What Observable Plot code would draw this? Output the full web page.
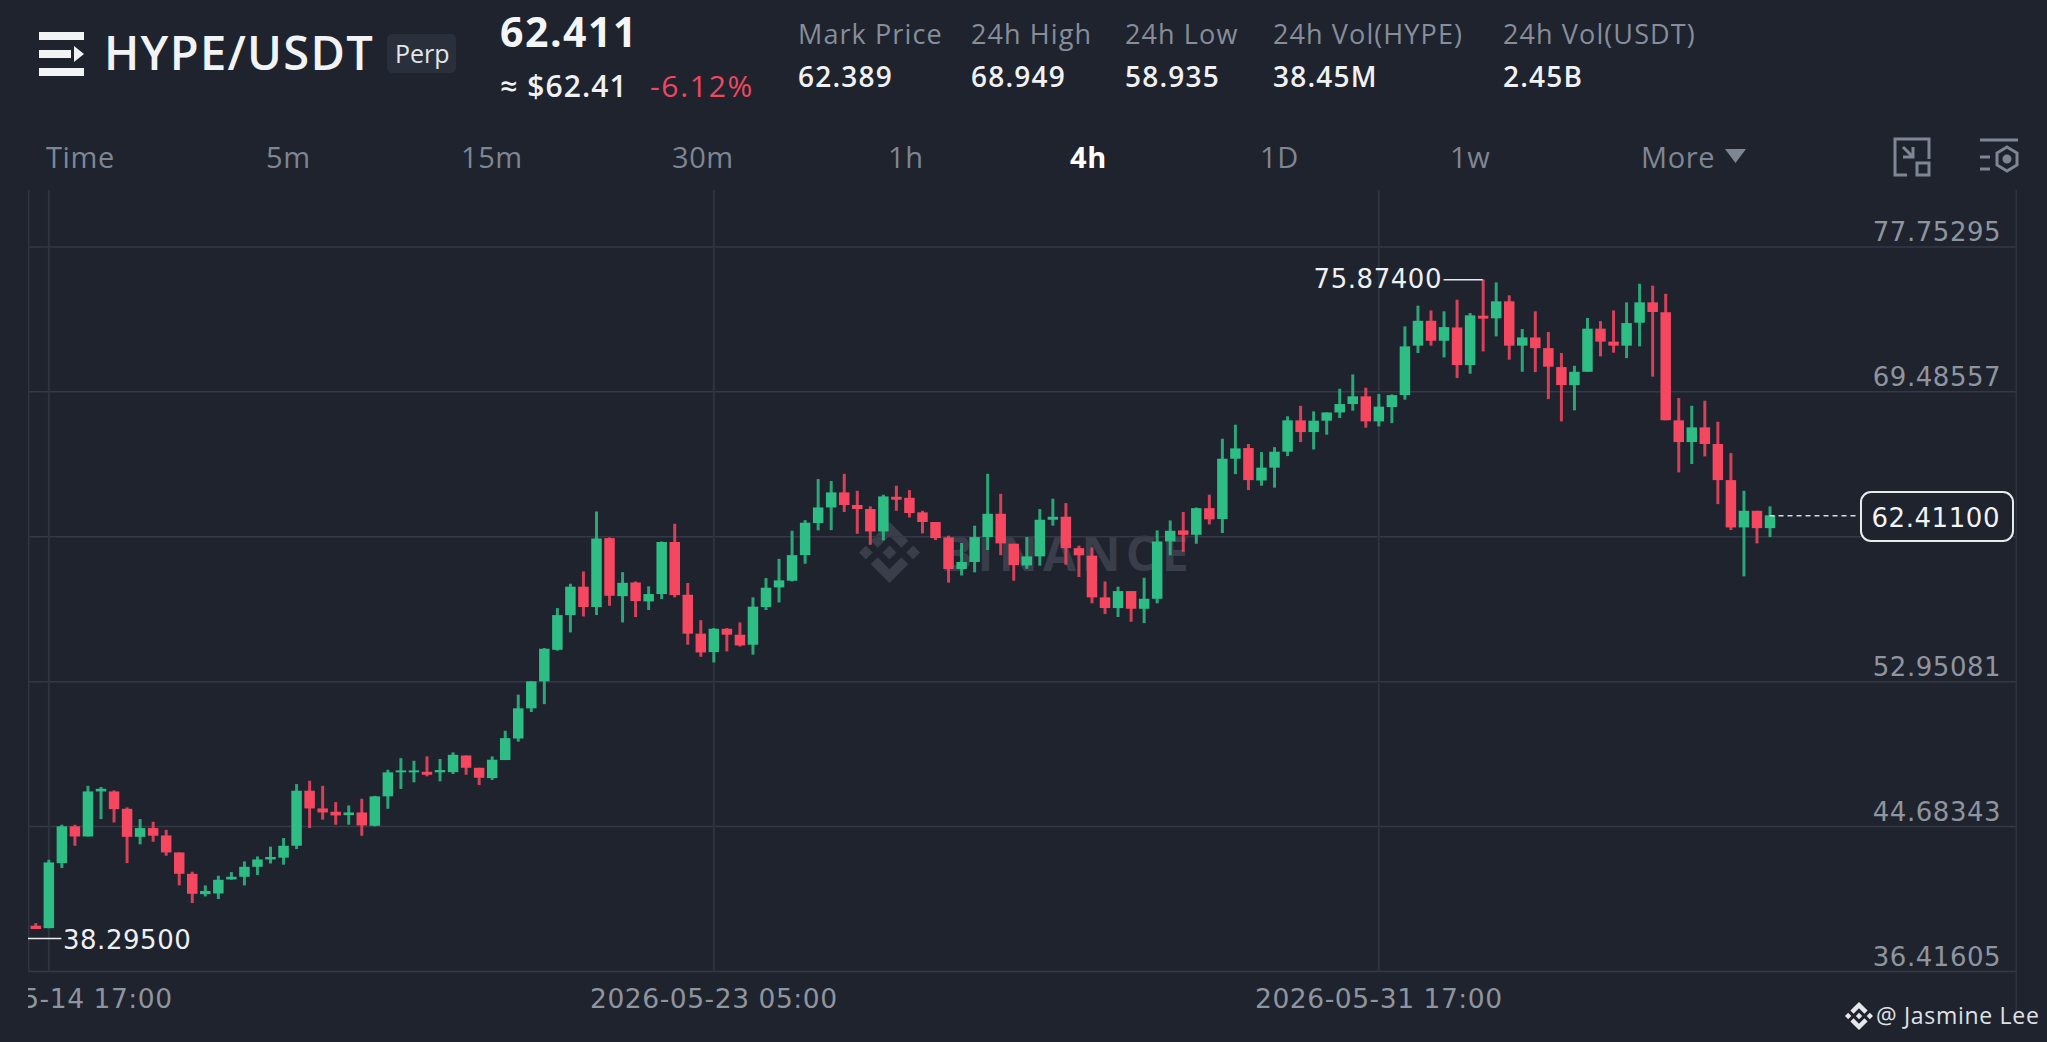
<!DOCTYPE html>
<html><head><meta charset="utf-8">
<script src="https://cdn.jsdelivr.net/npm/d3@7"></script>
<script src="https://cdn.jsdelivr.net/npm/@observablehq/plot@0.6"></script>
<style>
html,body{margin:0;padding:0;background:#1e232e;width:2047px;height:1042px;overflow:hidden;font-family:"Open Sans",sans-serif;color:#fff}
.a{position:absolute;white-space:nowrap;line-height:1}
.lab{color:#878e9b;font-size:27px;top:20px;letter-spacing:1.100px}
.val{color:#f0f1f3;font-size:28px;font-weight:600;top:62px;letter-spacing:1.200px}
.tab{color:#7f8693;font-size:29px;top:142px;letter-spacing:.6px}
#plot{position:absolute;left:28px;top:190px}
#plot svg{display:block}
#plot svg text{letter-spacing:.55px}
</style></head><body>
<svg class="a" style="left:39px;top:32px" width="45" height="44" viewBox="0 0 45 44" fill="#f2f3f5"><rect width="45" height="8"/><rect y="36" width="45" height="8"/><rect y="18" width="32" height="8"/><path d="M35 14l10 8-10 8z"/></svg>
<div class="a" style="left:104px;top:29px;font-size:47px;font-weight:600;color:#f2f3f5;letter-spacing:1.300px">HYPE/USDT</div>
<div class="a" style="left:387px;top:34px;width:69px;height:39px;background:#2a303b;border-radius:5px"></div>
<div class="a" style="left:395px;top:41px;font-size:25px;color:#e3e5e8">Perp</div>
<div class="a" style="left:500px;top:11px;font-size:41px;font-weight:700;color:#f4f5f6;letter-spacing:1.500px">62.411</div>
<div class="a" style="left:500px;top:71px;font-size:30px;font-weight:600;color:#f0f1f3;letter-spacing:1.100px">≈ $62.41</div>
<div class="a" style="left:650px;top:71px;font-size:30px;color:#f0475f;letter-spacing:1.700px">-6.12%</div>
<div class="a lab" style="left:798px">Mark Price</div><div class="a val" style="left:798px">62.389</div>
<div class="a lab" style="left:971px">24h High</div><div class="a val" style="left:971px">68.949</div>
<div class="a lab" style="left:1125px">24h Low</div><div class="a val" style="left:1125px">58.935</div>
<div class="a lab" style="left:1273px">24h Vol(HYPE)</div><div class="a val" style="left:1273px">38.45M</div>
<div class="a lab" style="left:1503px">24h Vol(USDT)</div><div class="a val" style="left:1503px">2.45B</div>
<div class="a tab" style="left:46px">Time</div>
<div class="a tab" style="left:266px">5m</div>
<div class="a tab" style="left:461px">15m</div>
<div class="a tab" style="left:672px">30m</div>
<div class="a tab" style="left:888px">1h</div>
<div class="a tab" style="left:1070px;color:#fff;font-weight:700">4h</div>
<div class="a tab" style="left:1260px">1D</div>
<div class="a tab" style="left:1450px">1w</div>
<div class="a tab" style="left:1641px">More</div>
<svg class="a" style="left:1725px;top:149px" width="21" height="14" viewBox="0 0 21 14" fill="#7f8693"><path d="M0 0h21l-10.500 14z"/></svg>
<svg class="a" style="left:1893px;top:137px" width="38" height="40" viewBox="0 0 38 40" fill="none" stroke="#7f8693" stroke-width="3"><path d="M14 38H2V2h34v20"/><path d="M10 10l10 10M10 20h10V10"/><rect x="24" y="26" width="12" height="12"/></svg>
<svg class="a" style="left:1979px;top:137px" width="40" height="40" viewBox="0 0 40 40" fill="none" stroke="#7f8693" stroke-width="3"><path d="M1 3h38M1 20h10M1 32h10"/><path d="M28 10l10 6v12l-10 6-10-6V16z"/><circle cx="28" cy="22" r="3" fill="#7f8693"/></svg>

<svg class="a" style="left:859px;top:522px" width="61" height="61" viewBox="0 0 126.61 126.61" fill="#393e4a"><path d="M38.73 53.2l24.59-24.58 24.6 24.6 14.3-14.31L63.32 0 24.43 38.9z"/><path d="M0 63.31l14.3-14.31 14.31 14.31-14.31 14.3z"/><path d="M38.73 73.41L63.32 98l24.6-24.6 14.31 14.29-38.9 38.91-38.91-38.88z"/><path d="M98 63.31l14.3-14.31 14.31 14.3-14.31 14.32z"/><path d="M77.83 63.3L63.32 48.78 52.59 59.51l-1.24 1.23-2.54 2.54 14.51 14.5 14.51-14.47z"/></svg>
<div class="a" style="left:940px;top:529px;font-size:48px;font-weight:700;color:#393e4a;letter-spacing:5.300px">BINANCE</div>

<div id="plot"></div>

<div class="a" style="left:1860px;top:491px;width:150px;height:47px;border:2px solid #e8eaed;border-radius:11px;background:#1e232e"></div>
<div class="a" style="right:47px;top:503px;font:26px 'DejaVu Sans';color:#f2f3f5;letter-spacing:.55px">62.41100</div>

<svg class="a" style="left:1845px;top:1002px" width="28" height="28" viewBox="0 0 126.61 126.61" fill="#e6e8eb"><path d="M38.73 53.2l24.59-24.58 24.6 24.6 14.3-14.31L63.32 0 24.43 38.9z"/><path d="M0 63.31l14.3-14.31 14.31 14.31-14.31 14.3z"/><path d="M38.73 73.41L63.32 98l24.6-24.6 14.31 14.29-38.9 38.91-38.91-38.88z"/><path d="M98 63.31l14.3-14.31 14.31 14.3-14.31 14.32z"/><path d="M77.83 63.3L63.32 48.78 52.59 59.51l-1.24 1.23-2.54 2.54 14.51 14.5 14.51-14.47z"/></svg>
<div class="a" style="left:1876px;top:1004px;font-size:23px;color:#dfe1e5;letter-spacing:.7px">@ Jasmine Lee</div>

<script>
const opens=[39.00,38.86,42.57,44.67,44.09,46.66,46.66,45.67,44.07,44.57,44.15,43.18,41.96,40.80,40.84,41.64,41.79,42.36,42.78,42.88,43.56,46.70,45.69,45.50,45.31,45.46,44.70,46.38,47.75,47.75,47.78,47.75,47.76,48.71,48.01,47.42,48.45,49.68,51.40,52.94,54.74,56.72,58.34,57.18,61.11,57.80,58.58,57.50,57.92,60.89,57.88,55.66,54.61,55.94,55.60,55.03,57.18,58.30,58.68,60.14,61.97,62.86,63.72,63.00,62.77,61.49,63.47,63.41,62.58,62.03,61.15,59.35,59.75,61.17,62.50,60.79,59.55,60.07,62.16,62.33,60.54,60.11,57.73,57.12,58.09,57.08,57.65,60.92,61.55,61.30,62.82,62.20,65.64,66.25,64.40,65.13,66.04,67.83,67.16,67.81,68.28,68.76,69.20,67.77,68.59,69.27,72.09,73.51,72.37,73.13,70.98,73.80,73.65,74.62,72.09,72.56,71.95,70.87,69.84,70.60,73.06,72.32,72.09,73.40,74.56,73.99,67.83,66.59,67.43,66.48,64.42,61.72,62.67,61.68];
const closes=[38.81,42.61,44.67,44.09,46.66,46.81,45.65,44.07,44.57,44.13,43.18,41.96,40.82,40.98,41.62,41.79,42.36,42.78,42.92,43.56,46.70,45.69,45.46,45.29,45.46,44.72,46.38,47.75,47.86,47.86,47.61,47.88,48.75,48.01,47.44,48.47,49.70,51.40,52.94,54.80,56.72,58.34,57.18,61.09,57.82,58.56,57.52,57.92,60.89,57.86,55.66,54.59,55.94,55.60,54.99,57.20,58.28,58.70,60.14,61.99,62.86,63.72,63.00,62.77,61.49,63.49,63.30,62.54,62.03,61.11,59.35,59.75,61.17,62.50,60.81,59.57,60.07,62.16,62.33,60.54,60.13,57.73,57.12,58.09,57.08,57.65,60.92,61.53,61.30,62.82,62.18,65.64,66.23,64.42,65.13,66.04,67.83,67.16,67.81,68.28,68.76,69.20,67.77,68.61,69.27,72.05,73.51,72.37,73.15,70.98,73.82,73.63,74.62,72.09,72.56,71.95,70.89,69.84,70.60,73.06,72.32,72.09,73.38,74.56,74.01,67.83,66.59,67.43,66.48,64.42,61.72,62.67,61.68,62.41];
const highs=[39.15,42.76,44.76,44.76,46.98,46.91,46.72,45.75,45.08,44.93,44.47,43.18,42.08,41.30,41.85,42.06,42.67,42.95,43.51,44.00,47.08,47.27,46.98,46.05,45.86,46.24,46.41,47.90,48.56,48.41,48.66,48.51,48.89,48.71,48.01,48.66,50.12,52.18,52.94,54.84,57.12,58.51,59.21,62.63,61.15,59.17,58.64,58.36,60.92,61.93,58.55,56.43,55.98,55.98,56.30,57.73,58.83,59.93,61.53,62.14,64.48,64.37,64.78,63.81,62.92,63.59,64.10,63.85,62.67,62.03,61.25,60.83,61.82,64.78,63.64,60.79,61.17,62.77,63.36,63.11,60.68,60.58,58.64,58.34,58.09,58.85,61.55,62.12,62.60,62.86,63.59,66.78,67.58,66.48,66.02,66.30,68.06,68.66,68.34,68.28,69.63,70.45,69.69,69.33,69.31,73.19,74.37,74.10,74.05,74.71,73.95,75.87,75.70,74.96,73.04,74.05,72.87,71.67,70.94,73.67,73.49,74.10,74.56,75.62,75.51,75.05,69.10,68.66,68.95,67.75,65.96,63.81,62.67,62.92];
const lows=[38.81,38.86,42.29,43.56,44.09,45.08,44.89,42.57,43.64,43.79,42.99,41.30,40.29,40.67,40.52,41.62,41.30,41.89,42.55,42.48,43.37,44.57,45.05,44.76,44.76,44.13,44.67,45.67,46.80,47.18,47.52,47.23,47.65,47.61,47.02,47.31,48.45,49.50,51.19,51.64,54.69,55.73,56.64,56.72,57.25,56.30,56.61,57.01,57.63,57.73,55.03,54.34,54.02,54.65,54.93,54.46,57.01,57.44,58.64,59.65,61.55,61.57,62.60,61.36,60.73,60.98,62.67,62.29,61.38,61.00,58.57,58.98,59.16,60.43,60.14,58.68,59.36,59.54,61.82,59.59,58.89,57.39,56.78,56.61,56.34,56.26,57.39,60.13,60.33,60.79,61.89,61.40,64.76,63.85,64.10,63.99,65.79,66.59,66.17,67.01,67.96,68.38,67.41,67.48,67.67,69.01,71.67,72.09,71.42,70.24,70.49,71.76,72.62,71.29,70.60,70.58,69.04,67.77,68.40,70.60,71.48,71.69,71.38,72.05,70.32,67.83,64.86,65.34,65.77,63.05,61.57,58.93,60.81,61.17];
const priceTicks=[77.75295,69.48557,61.21819,52.95081,44.68343,36.41605];
const firstCandle=Date.UTC(2026,4,14,13);
const candleMs=4*3600*1000;
const timeAt=i=>new Date(firstCandle+i*candleMs);
const timeTicks=[timeAt(1),timeAt(52),timeAt(103)];
const leftEdge=-0.56,rightEdge=151.88;
const highMark={value:75.874,index:111,labelIndex:108};
const lowMark={value:38.295,index:leftEdge,labelIndex:2};
const lastPrice={value:62.411,index:133,tagIndex:139.75};
const up="#2ebd85",down="#f5475f",grid="#343945",frameLine="#2f3540",axisText="#8f959f";

const candles=opens.map((o,i)=>({date:timeAt(i),open:o,close:closes[i],high:highs[i],low:lows[i],dir:closes[i]>=o?"up":"down"}));
const numFont={fontFamily:"DejaVu Sans",fontSize:26};

const chart=Plot.plot({
  width:2019,height:852,marginLeft:0,marginRight:31.3,marginTop:0,marginBottom:71,
  style:{background:"transparent",overflow:"hidden"},
  x:{type:"utc",domain:[timeAt(leftEdge),timeAt(rightEdge)],axis:null},
  y:{domain:[36.41605,80.97],axis:null},
  color:{domain:["up","down"],range:[up,down]},
  marks:[
    Plot.ruleY(priceTicks,{stroke:grid,strokeWidth:1.5}),
    Plot.ruleX(timeTicks,{stroke:frameLine,strokeWidth:2}),
    Plot.ruleX([timeAt(leftEdge)],{stroke:frameLine,strokeWidth:2}),
    Plot.ruleX([timeAt(rightEdge)],{y1:33.8,y2:80.97,stroke:frameLine,strokeWidth:1.500}),
    Plot.ruleX(candles,{x:"date",y1:"low",y2:"high",stroke:"dir",strokeWidth:3,strokeOpacity:.85}),
    Plot.ruleX(candles,{x:"date",y1:"open",y2:"close",stroke:"dir",strokeWidth:10.5}),
    Plot.axisX({ticks:timeTicks,tickSize:0,tickPadding:18,tickFormat:d3.utcFormat("%Y-%m-%d %H:%M"),fill:axisText,...numFont,fontSize:26.5,anchor:"bottom"}),
    Plot.text(priceTicks,{x:()=>timeAt(rightEdge),y:d=>d,text:d=>d.toFixed(5),textAnchor:"end",dx:-15,dy:-14,fill:axisText,...numFont}),
    Plot.ruleY([highMark.value],{x1:()=>timeAt(highMark.labelIndex),x2:()=>timeAt(highMark.index),stroke:"#e8eaed",strokeWidth:1.5}),
    Plot.text([highMark.value],{x:()=>timeAt(highMark.labelIndex),y:d=>d,text:d=>d.toFixed(5),textAnchor:"end",dx:-2,fill:"#eef0f2",...numFont}),
    Plot.ruleY([lowMark.value],{x1:()=>timeAt(lowMark.index),x2:()=>timeAt(lowMark.labelIndex),stroke:"#e8eaed",strokeWidth:1.5}),
    Plot.text([lowMark.value],{x:()=>timeAt(lowMark.labelIndex),y:d=>d,text:d=>d.toFixed(5),textAnchor:"start",dx:1,dy:2,fill:"#eef0f2",...numFont}),
    Plot.ruleY([lastPrice.value],{x1:()=>timeAt(lastPrice.index),x2:()=>timeAt(lastPrice.tagIndex),stroke:"#d8dbe0",strokeWidth:1.5,strokeDasharray:"5,4"})
  ]
});
document.getElementById("plot").append(chart);
</script>
</body></html>
